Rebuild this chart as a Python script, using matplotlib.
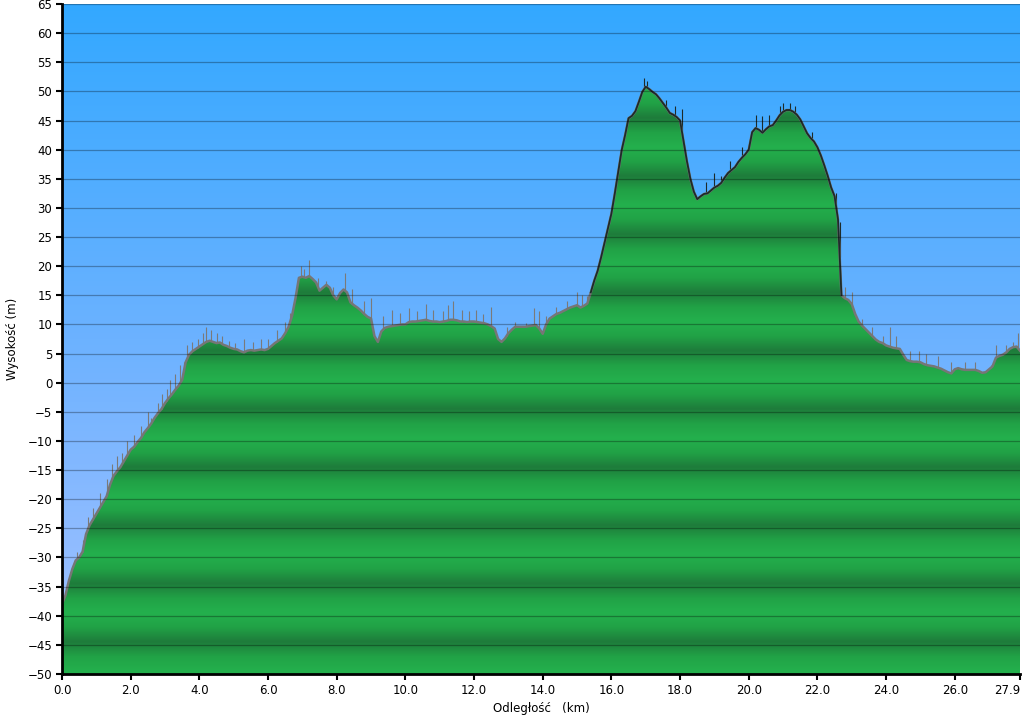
import numpy as np
import matplotlib
matplotlib.use('Agg')
import matplotlib.pyplot as plt
from matplotlib.colors import LinearSegmentedColormap

# distance every 0.1 km, elevation (m)
km = np.round(np.arange(0, 280) * 0.1, 1)
elev = [
    -38.0, -36.5, -34.0, -32.0, -30.5, -30.0, -29.0, -26.0, -24.5, -23.5,   # 0.0
    -22.5, -21.5, -20.5, -19.5, -17.5, -16.0, -15.2, -14.5, -13.5, -12.5,   # 1.0
    -11.5, -11.0, -10.2, -9.5, -8.5, -7.8, -7.0, -6.0, -5.2, -4.5,          # 2.0
    -3.5, -2.7, -2.0, -1.2, -0.5, 0.5, 3.5, 4.8, 5.4, 5.8,                  # 3.0
    6.2, 6.6, 7.0, 7.2, 7.0, 6.8, 6.9, 6.5, 6.3, 6.0,                       # 4.0
    5.8, 5.7, 5.4, 5.2, 5.5, 5.6, 5.5, 5.6, 5.7, 5.6,                       # 5.0
    5.8, 6.3, 6.8, 7.2, 7.6, 8.5, 9.6, 11.5, 14.5, 18.0,                    # 6.0
    18.2, 18.0, 18.3, 17.8, 17.2, 15.8, 16.3, 16.8, 16.3, 15.0,             # 7.0
    14.3, 15.4, 16.0, 15.5, 13.8, 13.3, 12.9, 12.4, 11.8, 11.3,             # 8.0
    11.0, 8.0, 7.0, 8.8, 9.4, 9.6, 9.7, 9.8, 9.9, 10.0,                     # 9.0
    10.0, 10.4, 10.5, 10.5, 10.6, 10.7, 10.8, 10.6, 10.5, 10.5,             # 10.0
    10.4, 10.5, 10.6, 10.8, 10.8, 10.7, 10.5, 10.5, 10.4, 10.5,             # 11.0
    10.5, 10.4, 10.3, 10.2, 10.0, 9.7, 9.3, 7.5, 7.0, 7.6,                  # 12.0
    8.5, 9.1, 9.6, 9.6, 9.6, 9.6, 9.7, 9.8, 9.9, 9.3,                       # 13.0
    8.4, 10.0, 11.0, 11.4, 11.8, 12.0, 12.3, 12.6, 12.9, 13.1,              # 14.0
    13.3, 12.9, 13.2, 13.6, 15.5, 17.5, 19.2, 21.5, 24.0, 26.5,             # 15.0
    29.0, 32.5, 36.2, 39.9, 42.5, 45.4, 45.8, 46.6, 48.2, 49.9,             # 16.0
    50.8, 50.4, 49.9, 49.5, 48.8, 48.0, 47.2, 46.3, 46.0, 45.6,             # 17.0
    45.0, 41.5, 38.0, 35.0, 32.8, 31.5, 32.0, 32.4, 32.5, 33.0,             # 18.0
    33.5, 33.8, 34.3, 35.2, 36.0, 36.5, 37.0, 37.9, 38.6, 39.2,             # 19.0
    40.0, 43.0, 43.7, 43.4, 42.9, 43.5, 44.0, 44.2, 45.0, 45.9,             # 20.0
    46.5, 46.8, 46.8, 46.5, 46.0, 45.2, 44.0, 42.8, 42.0, 41.4,             # 21.0
    40.4, 39.0, 37.3, 35.5, 33.5, 32.0, 28.0, 15.0, 14.5, 14.2,             # 22.0
    13.5, 11.8, 10.5, 9.8, 9.2, 8.6, 8.0, 7.4, 7.0, 6.8,                    # 23.0
    6.4, 6.2, 6.0, 5.9, 5.8, 4.8, 3.9, 3.7, 3.6, 3.6,                       # 24.0
    3.5, 3.2, 3.0, 2.9, 2.8, 2.6, 2.4, 2.1, 1.8, 1.6,                       # 25.0
    2.3, 2.5, 2.3, 2.2, 2.2, 2.2, 2.2, 2.0, 1.7, 1.8,                       # 26.0
    2.3, 2.8, 4.3, 4.6, 4.8, 5.2, 5.8, 6.1, 6.2, 5.5,                       # 27.0
]

# noisy spikes above the profile (km, top elevation m)
spike_km = [0.15, 0.45, 0.6, 0.75, 0.9, 1.1, 1.3, 1.45, 1.6, 1.75, 1.9, 2.1,
            2.3, 2.5, 2.6, 2.8, 2.9, 3.05, 3.15, 3.3, 3.45, 3.55, 3.65, 3.8,
            3.95, 4.1, 4.2, 4.35, 4.5, 4.65, 4.85, 5.05, 5.3, 5.55, 5.8, 6.0,
            6.25, 6.5, 6.65, 6.95, 7.05, 7.2, 7.45, 7.7, 7.9, 8.25, 8.45, 8.8,
            9.0, 9.35, 9.6, 9.85, 10.1, 10.35, 10.6, 10.8, 11.1, 11.25, 11.4,
            11.65, 11.85, 12.05, 12.25, 12.5, 12.95, 13.2, 13.5, 13.75, 13.9,
            14.1, 14.4, 14.7, 15.0, 15.15, 15.3, 16.95, 17.05, 17.6, 17.85,
            18.05, 18.75, 19.0, 19.2, 19.45, 19.8, 20.2, 20.4, 20.6, 20.9,
            21.0, 21.2, 21.35, 21.85, 22.55, 22.65, 22.8, 23.0, 23.3, 23.6,
            23.9, 24.1, 24.3, 24.7, 24.95, 25.15, 25.5, 25.9, 26.3, 26.6,
            27.05, 27.2, 27.5, 27.7, 27.85]
spike_top = [-34.5, -29, -27, -23, -21.5, -19, -16.5, -14, -12.5, -12, -10, -9,
             -7.5, -5, -6, -3.5, -2, -1, 0.5, 1.5, 3, 3.5, 6.5, 7,
             7.5, 8.5, 9.5, 9, 8.5, 8, 7.2, 6.8, 7.5, 7, 7.5, 7.5,
             9, 10.5, 12, 20, 19.5, 21, 18, 17.5, 16.5, 18.8, 16, 14,
             14.5, 11.5, 12.5, 12, 12.8, 12.3, 13.5, 12.5, 12.3, 13.3, 14,
             12.5, 12.3, 12.5, 11.8, 13, 9.5, 10.5, 10.3, 12.8, 12.3,
             11.5, 13, 14, 15.5, 15, 14.8, 52.3, 51.8, 48.5, 47.5,
             47, 34.5, 36, 35.5, 38, 40.5, 46, 45.7, 46, 47.5,
             48, 48, 47.5, 43, 32.5, 27.5, 16.5, 15.5, 11, 9.5,
             8, 9.5, 8, 5.5, 5.5, 5, 4.5, 3.5, 3.5, 3.5,
             3, 6.5, 6.5, 7, 8.5]

x_ticks = [0, 2, 4, 6, 8, 10, 12, 14, 16, 18, 20, 22, 24, 26, 27.9]
x_labels = ['0.0', '2.0', '4.0', '6.0', '8.0', '10.0', '12.0', '14.0', '16.0',
            '18.0', '20.0', '22.0', '24.0', '26.0', '27.9']
y_ticks = list(range(-50, 70, 5))

YMIN, YMAX = -50, 65
XMAX = 27.9

fig = plt.figure(figsize=(10.24, 7.21), dpi=100)
ax = fig.add_axes([62 / 1024, 47 / 721, 958 / 1024, 670 / 721])
ax.set_xlim(0, XMAX)
ax.set_ylim(YMIN, YMAX)

# sky gradient
sky = LinearSegmentedColormap.from_list('sky', ['#a6c2ff', '#6cb2ff', '#33a8ff'])
ax.imshow(np.linspace(0, 1, 256).reshape(-1, 1), cmap=sky, origin='lower',
          extent=[0, XMAX, YMIN, YMAX], aspect='auto', zorder=0)

# green fill with 10 m bands
poly = ax.fill_between(km, YMIN, elev, color='none', lw=0, zorder=1)
ys = np.linspace(YMIN, YMAX, 1200)
band = np.abs(((ys - 0.5) % 10.0) - 5.0) / 5.0
grn = LinearSegmentedColormap.from_list('grn', ['#1e7c3b', '#21a246', '#24b04d'])
im = ax.imshow(band.reshape(-1, 1), cmap=grn, origin='lower',
               extent=[0, XMAX, YMIN, YMAX], aspect='auto', zorder=1)
im.set_clip_path(poly.get_paths()[0], transform=ax.transData)

# noisy spikes
spike_base = np.interp(spike_km, km, elev)
dark = [(15.4 < s < 22.7) for s in spike_km]
ax.vlines([s for s, d in zip(spike_km, dark) if not d],
          [b for b, d in zip(spike_base, dark) if not d],
          [t for t, d in zip(spike_top, dark) if not d],
          color='#7a7a7a', lw=0.8, zorder=2)
ax.vlines([s for s, d in zip(spike_km, dark) if d],
          [b for b, d in zip(spike_base, dark) if d],
          [t for t, d in zip(spike_top, dark) if d],
          color='#1d2b2a', lw=0.8, zorder=2)

# profile edge
elev_arr = np.array(elev)
ax.plot(km, elev_arr, color='#767676', lw=1.8, zorder=2)
mid = (km >= 15.4) & (km <= 22.7)
ax.plot(km[mid], elev_arr[mid], color='#1d2b2a', lw=1.3, zorder=3)

# grid lines
for y in y_ticks[1:]:
    ax.axhline(y, color='black', alpha=0.3, lw=0.9, zorder=4)

ax.set_xticks(x_ticks)
ax.set_xticklabels(x_labels)
ax.get_xticklabels()[-1].set_horizontalalignment('right')
ax.set_yticks(y_ticks)
ax.tick_params(axis='both', direction='out', length=4, width=1.5,
               labelsize=8.5, colors='black', pad=3)
for side in ['top', 'right']:
    ax.spines[side].set_visible(False)
for side in ['left', 'bottom']:
    ax.spines[side].set_linewidth(2)
    ax.spines[side].set_color('black')
    ax.spines[side].set_zorder(5)

ax.set_xlabel('Odległość   (km)', fontsize=8.5, labelpad=4)
ax.set_ylabel('Wysokość (m)', fontsize=8.5, labelpad=6)

fig.savefig('out.png', dpi=100)
